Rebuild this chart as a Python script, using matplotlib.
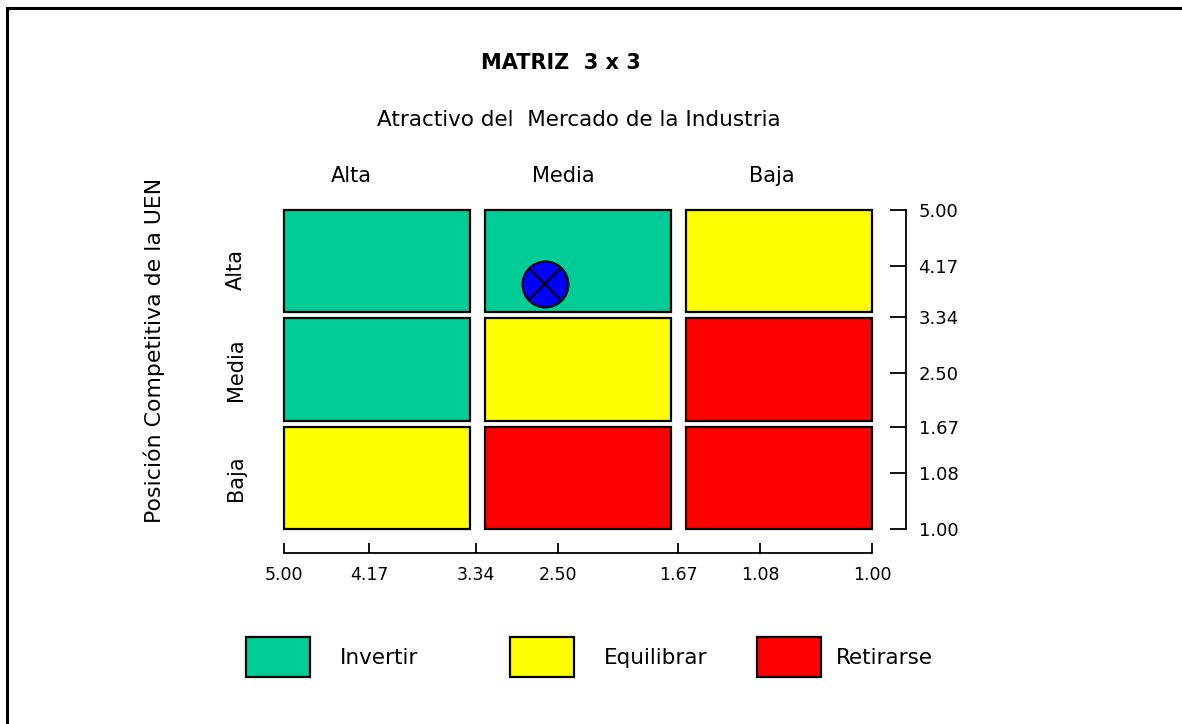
import numpy as np
import matplotlib
matplotlib.use('Agg')
import matplotlib.pyplot as plt
from matplotlib.patches import Rectangle
from matplotlib.lines import Line2D

plt.rcParams['font.family'] = ['DejaVu Sans']

# matrix data
col_labels = ['Alta', 'Media', 'Baja']
row_labels = ['Alta', 'Media', 'Baja']
# zone of each cell, rows from top (Alta) to bottom (Baja)
zones = [['Invertir', 'Invertir', 'Equilibrar'],
         ['Invertir', 'Equilibrar', 'Retirarse'],
         ['Equilibrar', 'Retirarse', 'Retirarse']]
zone_names = ['Invertir', 'Equilibrar', 'Retirarse']
zone_colors = {'Invertir': '#00CC96', 'Equilibrar': '#FFFF00', 'Retirarse': '#FF0000'}

# axis scales (not linear in the source chart)
x_tick_labels = ['5.00', '4.17', '3.34', '2.50', '1.67', '1.08', '1.00']
x_tick_pos = [0, 0.434, 0.98, 1.40, 2.01, 2.43, 3.0]
y_tick_labels = ['5.00', '4.17', '3.34', '2.50', '1.67', '1.08', '1.00']
y_tick_pos = [3.0, 2.47, 1.99, 1.47, 0.96, 0.53, 0]

# position of the business unit
uen_x = 2.64
uen_y = 3.88


def to_pos(value, labels, pos):
    vals = np.array([float(v) for v in labels])
    pos = np.array(pos)
    order = np.argsort(vals)
    return np.interp(value, vals[order], pos[order])


fig = plt.figure(figsize=(11.82, 7.24), dpi=100)
W, H = 1182, 724
ax = fig.add_axes([284 / W, 1 - 529 / H, 588 / W, 319 / H])
ax.set_xlim(0, 3)
ax.set_ylim(0, 3)
ax.patch.set_visible(False)

# cells
for i in range(3):
    for j in range(3):
        x0 = j * 1.025
        y0 = (2 - i) * 1.02
        ax.add_patch(Rectangle((x0, y0), 0.95, 0.96,
                               facecolor=zone_colors[zones[i][j]],
                               edgecolor='black', linewidth=1.6, clip_on=False))

# spines
for s in ['top', 'left']:
    ax.spines[s].set_visible(False)
ax.spines['right'].set_position(('outward', 24.5))
ax.spines['bottom'].set_position(('outward', 17.3))
ax.spines['right'].set_bounds(0, 3)
ax.spines['bottom'].set_bounds(0, 3)
ax.spines['right'].set_linewidth(1.3)
ax.spines['bottom'].set_linewidth(1.3)
ax.yaxis.tick_right()
ax.set_xticks(x_tick_pos)
ax.set_xticklabels(x_tick_labels)
ax.set_yticks(y_tick_pos)
ax.set_yticklabels(y_tick_labels)
ax.tick_params(axis='y', direction='in', length=11.5, width=1.3, pad=9, labelsize=13)
ax.tick_params(axis='x', direction='in', length=7.2, width=1.3, pad=9, labelsize=12.5)

# point
px = to_pos(uen_x, x_tick_labels, x_tick_pos)
py = to_pos(uen_y, y_tick_labels, y_tick_pos)
ax.plot(px, py, marker='o', markersize=33, color='#0000FF',
        markeredgecolor='black', markeredgewidth=1.5, zorder=5)
ax.plot(px, py, marker='x', markersize=23.4, color='black',
        markeredgewidth=1.5, zorder=6)

# titles and labels
ax.text(1.413, 4.38, 'MATRIZ  3 x 3', ha='center', va='center',
        fontsize=15, fontweight='bold')
ax.text(1.505, 3.85, 'Atractivo del  Mercado de la Industria', ha='center',
        va='center', fontsize=15.5)
for x, lab in zip([0.342, 1.423, 2.49], col_labels):
    ax.text(x, 3.32, lab, ha='center', va='center', fontsize=15)
for y, lab in zip([2.44, 1.50, 0.48], row_labels):
    ax.text(-0.245, y, lab, ha='center', va='center', rotation=90, fontsize=15)
ax.text(-0.66, 1.68, 'Posición Competitiva de la UEN', ha='center',
        va='center', rotation=90, fontsize=15.8)

# legend
for x, name in zip([-0.194, 1.153, 2.413], zone_names):
    ax.add_patch(Rectangle((x, -1.392), 0.327, 0.376,
                           facecolor=zone_colors[name], edgecolor='black',
                           linewidth=1.6, clip_on=False))
for x, name in zip([0.286, 1.633, 2.816], zone_names):
    ax.text(x, -1.21, name, ha='left', va='center', fontsize=15.5)

# outer frame (left and top edges only visible)
fig.add_artist(Line2D([7 / W, 7 / W], [0, 1 - 8 / H], color='black', linewidth=2.2))
fig.add_artist(Line2D([7 / W, 1], [1 - 8 / H, 1 - 8 / H], color='black', linewidth=2.2))

fig.savefig('out.png', dpi=100)
